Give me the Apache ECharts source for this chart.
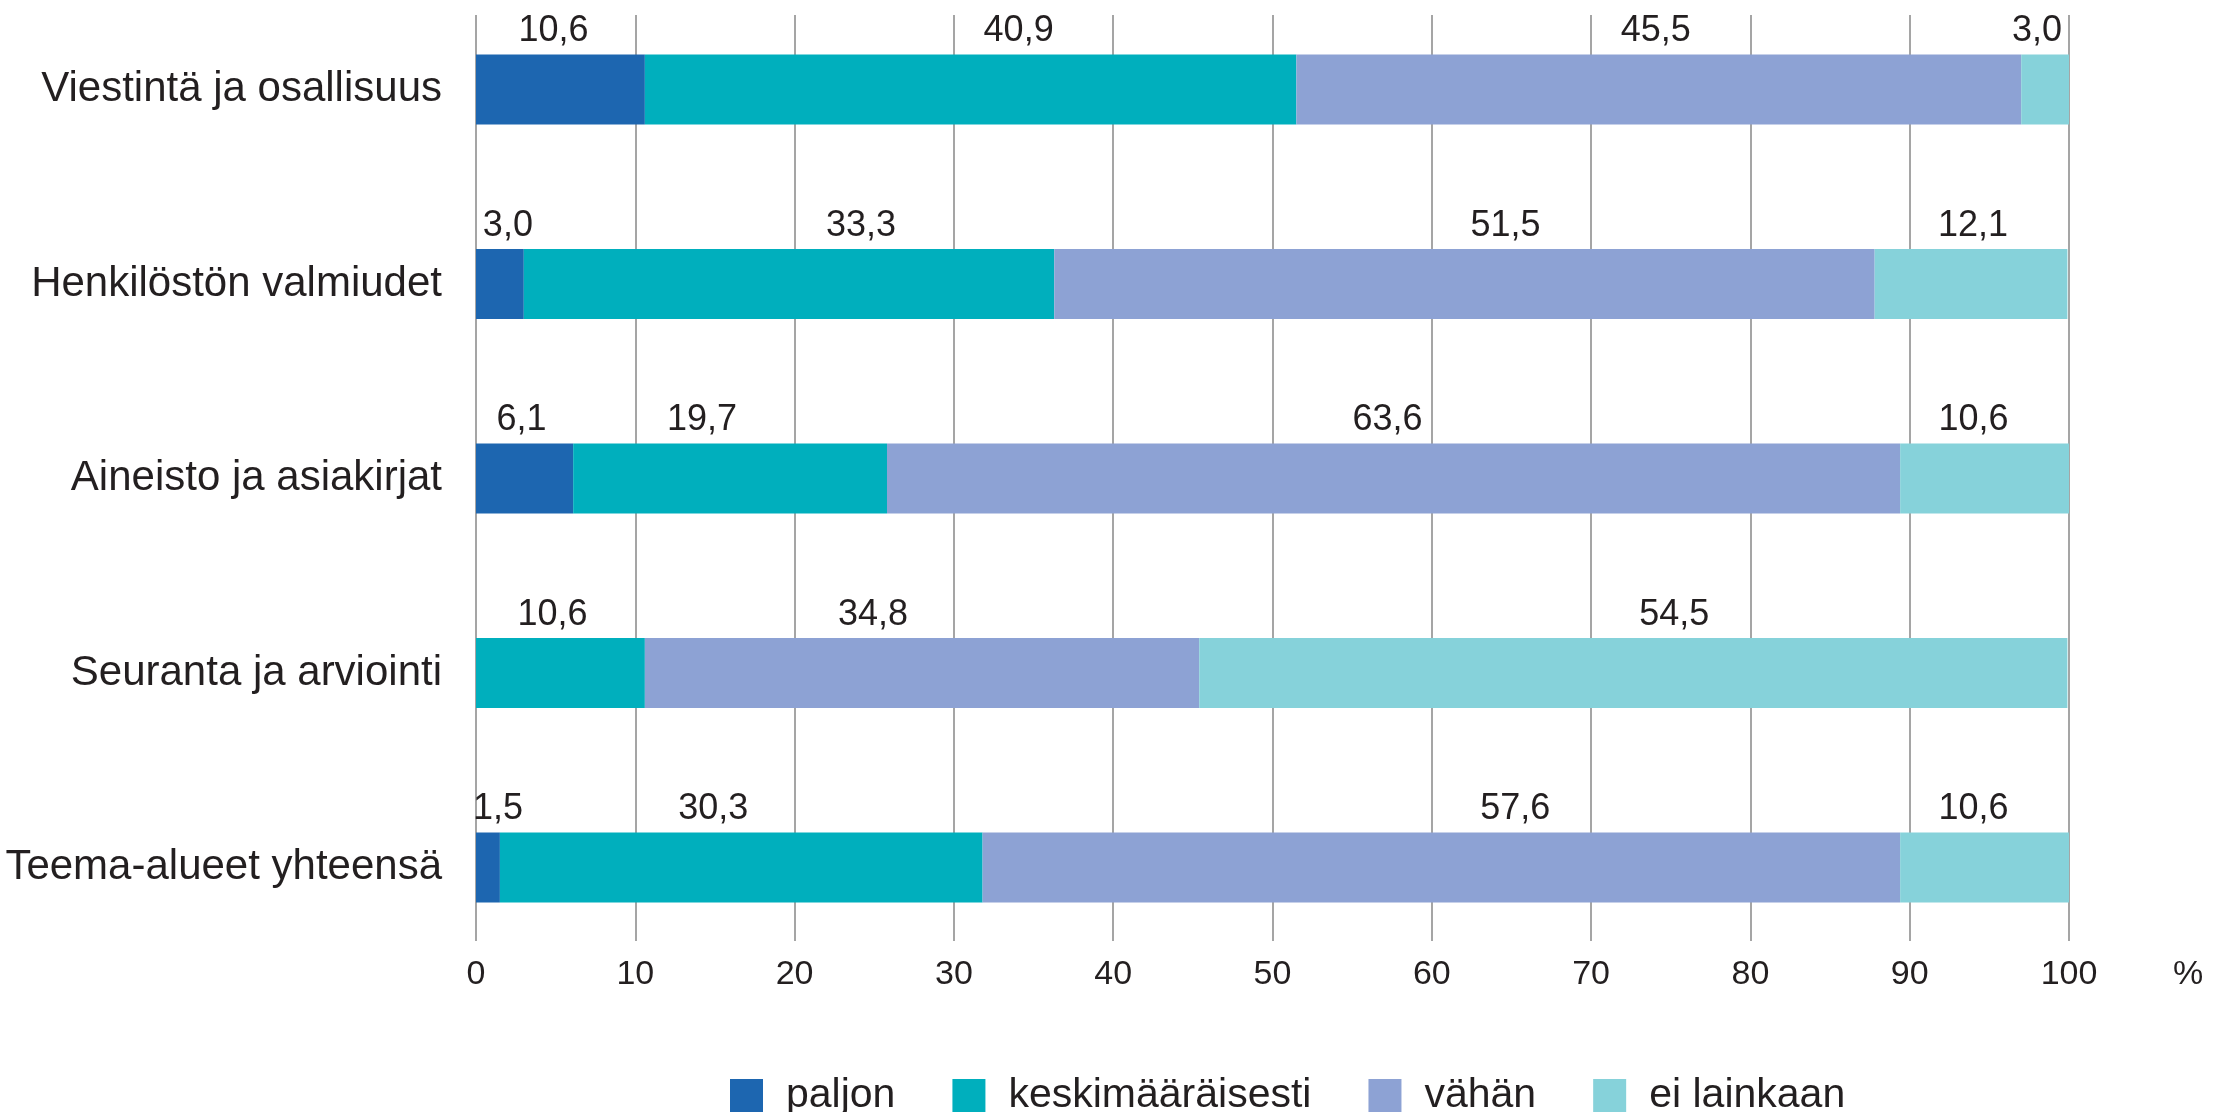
<!DOCTYPE html>
<html>
<head>
<meta charset="utf-8">
<script src="https://cdn.jsdelivr.net/npm/echarts@6/dist/echarts.min.js"></script>
<style>
  html, body { margin: 0; padding: 0; background: #fff; }
  #chart { width: 2232px; height: 1112px; }
</style>
</head>
<body>
<div id="chart"></div>
<script>
// teema-alueet ylhäältä alas
var categories = ['Viestintä ja osallisuus', 'Henkilöstön valmiudet', 'Aineisto ja asiakirjat', 'Seuranta ja arviointi', 'Teema-alueet yhteensä'];
var seriesNames = ['paljon', 'keskimääräisesti', 'vähän', 'ei lainkaan'];

var paljon = [10.6, 3.0, 6.1, 0, 1.5];
var keskimaarin = [40.9, 33.3, 19.7, 10.6, 30.3];
var vahan = [45.5, 51.5, 63.6, 34.8, 57.6];
var eiLainkaan = [3.0, 12.1, 10.6, 54.5, 10.6];

var xTicks = [0, 10, 20, 30, 40, 50, 60, 70, 80, 90, 100];

var colors = ['#1d66b0', '#00afbd', '#8da2d4', '#86d2da'];

// label nudges (px) – the numbers are not exactly centred in the original
var labelNudge = [
  [-7, 8, -3, 0, 10],
  [48, 72, -28, -8, -28],
  [-3, 41, -6, -49, 74],
  [-8, 2, -11, 41, -11]
];

var chart = echarts.init(document.getElementById('chart'));
var font = 'Liberation Sans, Arial, sans-serif';
var txt = '#231f20';

function fmt(v) {
  return v.toFixed(1).replace('.', ',');
}

var allValues = [paljon, keskimaarin, vahan, eiLainkaan];
var series = allValues.map(function(vals, s) {
  return {
    name: seriesNames[s],
    type: 'bar',
    stack: 'total',
    xAxisIndex: 1,
    yAxisIndex: 1,
    barWidth: 70,
    clip: false,
    itemStyle: { color: colors[s] },
    data: vals.map(function(v, i) {
      return {
        value: v,
        label: { show: v > 0, offset: [labelNudge[s][i], 0] }
      };
    }),
    label: {
      position: 'top',
      distance: 5,
      color: txt,
      fontFamily: font,
      fontSize: 36,
      formatter: function(p) { return fmt(p.value); }
    }
  };
});

var option = {
  animation: false,
  backgroundColor: '#fff',
  color: colors,
  legend: {
    left: 730,
    top: 1075,
    padding: 0,
    itemWidth: 33,
    itemHeight: 33,
    itemGap: 57,
    icon: 'rect',
    data: seriesNames,
    textStyle: {
      color: txt,
      fontFamily: font,
      fontSize: 41,
      padding: [0, 0, 0, 18]
    }
  },
  grid: [
    { left: 476, right: 163, top: 15, bottom: 171 },
    // bar centres sit on the category ticks (boundaryGap off)
    { left: 476, right: 163, top: 89.5, height: 778 }
  ],
  xAxis: [
    {
      gridIndex: 0,
      type: 'value',
      min: 0,
      max: 100,
      interval: 10,
      axisLine: { show: false },
      axisTick: { show: false },
      splitLine: { show: true, lineStyle: { color: '#878787', width: 1.5 } },
      axisLabel: {
        margin: 17,
        color: txt,
        fontFamily: font,
        fontSize: 34,
        customValues: xTicks
      },
      name: '%',
      nameLocation: 'end',
      nameGap: 104,
      nameTextStyle: {
        color: txt,
        fontFamily: font,
        fontSize: 34,
        align: 'left',
        verticalAlign: 'top',
        padding: [17, 0, 0, 0]
      }
    },
    {
      gridIndex: 1,
      type: 'value',
      min: 0,
      max: 100,
      show: false
    }
  ],
  yAxis: [
    {
      gridIndex: 0,
      type: 'value',
      show: false,
      splitLine: { show: false }
    },
    {
      gridIndex: 1,
      type: 'category',
      inverse: true,
      boundaryGap: false,
      data: categories,
      axisLine: { show: false },
      axisTick: { show: false },
      splitLine: { show: false },
      axisLabel: {
        margin: 34,
        color: txt,
        fontFamily: font,
        fontSize: 42
      }
    }
  ],
  series: series
};

chart.setOption(option);
</script>
</body>
</html>
